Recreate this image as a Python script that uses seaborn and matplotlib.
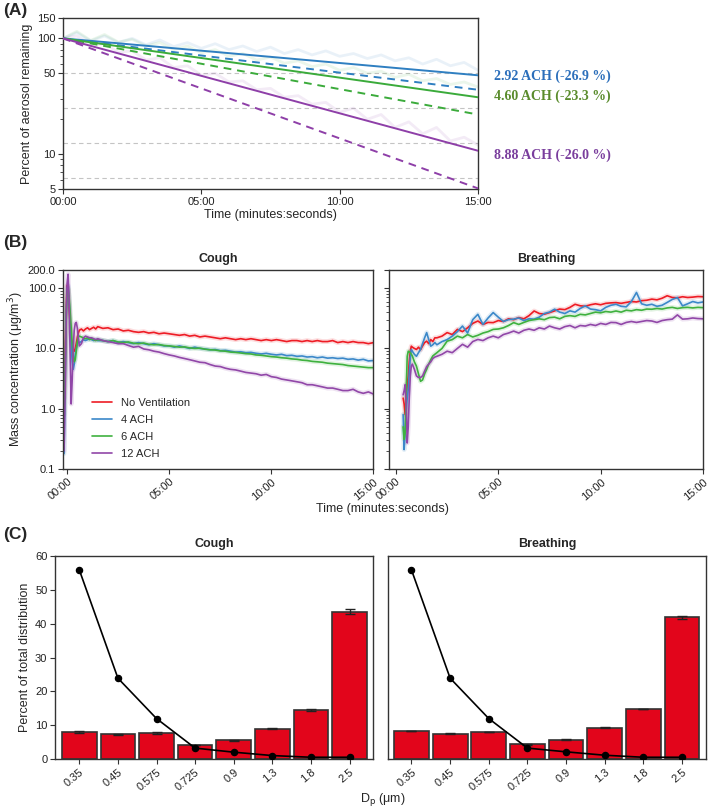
import numpy as np
import pandas as pd
import matplotlib
matplotlib.use("Agg")
import matplotlib.pyplot as plt
import seaborn as sns
from matplotlib.ticker import FixedLocator, FuncFormatter, LogLocator, NullFormatter, FixedFormatter

# ---------------- DATA ----------------
# Panel A: decay fits (percent remaining), endpoints at 0 and 15 min
a_time = [0, 15]
a_fit_292 = [100, 48]
a_theory_292 = [100, 36]
a_fit_460 = [100, 31]
a_theory_460 = [100, 22]
a_fit_888 = [100, 10.7]
a_theory_888 = [100, 5.06]
half_levels = [50, 25, 12.5, 6.25]
a_labels = ["2.92 ACH (-26.9 %)", "4.60 ACH (-23.3 %)", "8.88 ACH (-26.0 %)"]

# faint measured traces (every 0.5 min)
a_meas_time = [0, 0.5, 1, 1.5, 2, 2.5, 3, 3.5, 4, 4.5, 5, 5.5, 6, 6.5, 7, 7.5, 8, 8.5,
               9, 9.5, 10, 10.5, 11, 11.5, 12, 12.5, 13, 13.5, 14, 14.5, 15]
a_meas_292 = [100, 112, 95, 105, 92, 100, 88, 97, 85, 92, 82, 90, 80, 86, 77, 84, 74, 80,
              72, 78, 70, 74, 67, 72, 64, 68, 60, 66, 58, 62, 53]
a_meas_460 = [100, 115, 96, 108, 93, 98, 86, 92, 80, 86, 75, 80, 70, 74, 65, 69, 61, 64,
              57, 60, 53, 56, 50, 52, 46, 49, 43, 45, 40, 42, 38]
a_meas_888 = [100, 105, 88, 90, 76, 78, 65, 68, 56, 58, 48, 50, 42, 43, 36, 37, 31, 32,
              27, 28, 23, 25, 20, 22, 17, 19, 15, 17, 13, 14, 12]

# Panel B: mass concentration (ug/m3)
b_conditions = ["No Ventilation", "4 ACH", "6 ACH", "12 ACH"]
cough_time = [-0.15, -0.1, -0.05, 0.0, 0.05, 0.1, 0.15, 0.2, 0.25, 0.3, 0.35, 0.4, 0.45, 0.5,
              0.55, 0.6, 0.7, 0.8, 0.9, 1.0, 1.1, 1.2, 1.3, 1.4, 1.5,
              1.75, 2.0, 2.25, 2.5, 2.75, 3.0, 3.25, 3.5, 3.75, 4.0, 4.25, 4.5, 4.75, 5.0,
              5.25, 5.5, 5.75, 6.0, 6.25, 6.5, 6.75, 7.0, 7.25, 7.5, 7.75, 8.0, 8.25, 8.5,
              8.75, 9.0, 9.25, 9.5, 9.75, 10.0, 10.25, 10.5, 10.75, 11.0, 11.25, 11.5, 11.75,
              12.0, 12.25, 12.5, 12.75, 13.0, 13.25, 13.5, 13.75, 14.0, 14.25, 14.5, 14.75, 15.0]
cough_none = [1.5, 5, 40, 110, 90, 45, 25, 15, 11, 9.5, 9, 10, 12, 15,
              18, 20, 21, 19.5, 21, 22, 20.5, 21.5, 22.5, 21, 23,
              21.5, 22, 20.5, 21, 19.5, 20, 19, 18.5, 19, 18, 18.5, 17.5, 18, 17.5,
              17, 16.5, 17, 16, 16.5, 15.5, 16, 15.5, 15, 14.5, 15, 14.5, 14, 14.5,
              14, 14.5, 14, 13.5, 14, 13.5, 14, 13.5, 13, 13.5, 13.5, 13, 13.5,
              13, 13.5, 13, 13, 13.5, 12.5, 13, 12.5, 13, 12.5, 12.5, 12, 12.5]
cough_4 = [0.18, 2, 30, 100, 110, 60, 30, 12, 6, 4.5, 5.5, 8, 10, 12,
           13, 12.5, 13, 14, 13.5, 14, 14.5, 14, 13.5, 14, 13.5,
           13.5, 13, 13.5, 12.5, 13, 12.5, 12, 12.5, 12, 11.5, 12, 11.5, 11, 11,
           10.5, 11, 10.5, 10, 10.5, 10, 9.8, 9.5, 9.6, 9.2, 9.3, 9, 8.7, 8.8,
           8.5, 8.6, 8.3, 8.1, 8.3, 8, 7.8, 8, 7.6, 7.7, 7.4, 7.5, 7.2,
           7.3, 7.0, 7.2, 6.9, 7.0, 6.8, 6.9, 6.6, 6.7, 6.4, 6.6, 6.2, 6.3]
cough_6 = [0.8, 3, 25, 80, 100, 70, 40, 22, 12, 7.5, 6, 6.5, 9, 13,
           15.5, 16, 15.5, 15, 14.5, 15, 14, 14.5, 14, 13.5, 14,
           13.5, 13, 13.5, 12.8, 12.5, 12.8, 12.2, 12, 12.3, 11.7, 11.5, 11.6, 11.2, 11,
           10.8, 10.5, 10.6, 10.2, 10, 10.1, 9.7, 9.5, 9.4, 9.1, 9, 8.7, 8.6, 8.4,
           8.2, 8.1, 7.8, 7.7, 7.5, 7.3, 7.2, 7.0, 6.9, 6.7, 6.6, 6.4, 6.3,
           6.1, 6.0, 5.9, 5.7, 5.6, 5.5, 5.4, 5.2, 5.1, 5.0, 4.9, 4.8, 4.8]
cough_12 = [0.2, 1.4, 20, 120, 170, 60, 8, 1.2, 3, 10, 20, 26, 27, 22,
            15, 11, 12, 15, 16, 15.5, 15, 15, 14.5, 14, 14.5,
            13.5, 13, 12.5, 12, 12, 11.2, 10.5, 10.8, 9.8, 9.5, 9, 8.7, 8.2, 7.8,
            7.5, 7.1, 6.8, 6.5, 6.2, 5.9, 5.8, 5.4, 5.1, 5.0, 4.7, 4.5, 4.4, 4.2,
            4.0, 3.9, 3.8, 3.6, 3.7, 3.4, 3.3, 3.1, 3.0, 2.9, 2.8, 2.7, 2.5,
            2.5, 2.4, 2.3, 2.2, 2.2, 2.1, 2.0, 2.0, 2.1, 1.9, 1.8, 1.9, 1.75]

breath_time = [0.35, 0.4, 0.45, 0.5, 0.55, 0.6, 0.65, 0.7, 0.75, 0.8, 0.9, 1.0, 1.1, 1.2,
               1.3, 1.4, 1.5, 1.6, 1.7, 1.8, 1.9, 2.0,
               2.25, 2.5, 2.75, 3.0, 3.25, 3.5, 3.75, 4.0, 4.25, 4.5, 4.75, 5.0, 5.25, 5.5,
               5.75, 6.0, 6.25, 6.5, 6.75, 7.0, 7.25, 7.5, 7.75, 8.0, 8.25, 8.5, 8.75, 9.0,
               9.25, 9.5, 9.75, 10.0, 10.25, 10.5, 10.75, 11.0, 11.25, 11.5, 11.75, 12.0,
               12.25, 12.5, 12.75, 13.0, 13.25, 13.5, 13.75, 14.0, 14.25, 14.5, 14.75, 15.0]
breath_none = [1.5, 1.2, 0.8, 1.5, 2.5, 3.5, 6, 9, 10.9, 10.5, 10, 9.6, 10.5, 9.5,
               11, 12.5, 13.2, 12, 14, 13, 15, 15,
               16, 18.3, 17, 20.7, 19, 22, 26, 28.5, 25, 27, 26.8, 29, 28, 31,
               30, 32.5, 31, 35, 41.8, 38, 37, 39.3, 42, 45, 44, 48, 54, 51,
               50, 53, 55, 53, 56, 57, 57.6, 56, 58, 60, 59, 62,
               63, 65.8, 64, 68, 74.8, 70, 69, 72, 70, 71, 72.6, 72]
breath_4 = [0.8, 0.21, 0.4, 0.9, 1.5, 2.07, 4, 7, 9.6, 9, 8, 7.4, 8.5, 9.6,
            12, 15, 18.3, 14, 10.9, 11.5, 12.5, 11.5,
            13, 14, 16, 19, 23.5, 18, 30, 36.8, 25, 32, 39.3, 33, 28, 30,
            30.6, 32, 29, 31, 30.6, 33, 38, 40, 44.7, 40, 38, 42, 40, 46,
            50.8, 45, 44, 42, 48, 52, 54, 50, 49, 60, 84.8, 55,
            52, 54, 50, 52, 58, 65, 70, 50.8, 55, 60, 57, 59]
breath_6 = [0.5, 0.31, 0.4, 2, 7.4, 9.0, 8.8, 8.5, 8, 7.5, 6, 5.1, 3.8, 2.85,
            3.0, 3.8, 4.5, 5.5, 6.5, 7.5, 8, 8.5,
            10, 13.2, 14, 16, 15, 17, 15.5, 16.5, 18, 19, 20.7, 21, 22, 24,
            26.8, 25, 27, 29, 30, 31, 30, 32.5, 33, 31, 34, 35, 34, 36.8,
            36, 38, 40, 39, 41, 40, 41.8, 40, 43, 42, 44, 43,
            45, 44.7, 46, 45, 47, 48, 46, 47.5, 48, 47, 48, 47.5]
breath_12 = [1.7, 2.0, 2.5, 1.2, 0.27, 0.5, 1.5, 3.5, 5.1, 5.5, 4.5, 3.5, 3.3, 3.3,
             3.5, 4.2, 5, 5.5, 6, 6.8, 7.2, 7.4,
             8, 9, 8.5, 10, 11.7, 10.5, 13, 14.1, 13.5, 15, 16, 15, 17, 18,
             19.4, 18, 20, 21, 20, 22, 21, 23.5, 22, 21, 23, 24, 22, 24,
             23.5, 25, 24, 26, 25, 27, 26.8, 25, 27, 28, 27, 28,
             29, 28.5, 27, 29, 30, 30.6, 36, 30.6, 31, 32, 31.3, 31]

# Panel C: size distribution
dp_labels = ["0.35", "0.45", "0.575", "0.725", "0.9", "1.3", "1.8", "2.5"]
cough_mass_pct = [8.1, 7.4, 7.7, 4.2, 5.6, 9.0, 14.5, 43.5]
cough_mass_err = [0.3, 0.2, 0.3, 0.1, 0.1, 0.1, 0.2, 0.8]
cough_number_pct = [55.8, 23.9, 12.0, 3.3, 2.1, 1.1, 0.6, 0.6]
breath_mass_pct = [8.3, 7.6, 8.0, 4.4, 5.8, 9.3, 14.8, 41.8]
breath_mass_err = [0.1, 0.1, 0.1, 0.1, 0.1, 0.1, 0.1, 0.4]
breath_number_pct = [55.8, 23.9, 12.0, 3.3, 2.2, 1.2, 0.6, 0.6]

# ---------------- STYLE ----------------
sns.set_theme(style="white")
plt.rcParams['font.family'] = ['Liberation Sans', 'DejaVu Sans']
plt.rcParams['axes.edgecolor'] = '#333333'
plt.rcParams['axes.linewidth'] = 1.0
plt.rcParams['xtick.color'] = '#333333'
plt.rcParams['ytick.color'] = '#333333'
plt.rcParams['xtick.labelcolor'] = '#222222'
plt.rcParams['ytick.labelcolor'] = '#222222'

TICK_FS = 8
LAB_FS = 9

col_a = {'292': '#2f7fc1', '460': '#3bab3b', '888': '#8e3fa8'}
txt_col = ['#2c6fbb', '#5a8c2c', '#7a3e9d']
b_pal = {"No Ventilation": '#ee1c25', "4 ACH": '#3b88c9',
         "6 ACH": '#3fb13f', "12 ACH": '#9147a8'}
bar_col = '#e2051b'

W, H = 709, 808
fig = plt.figure(figsize=(W / 100, H / 100), dpi=100)


def rect(l, t, r, b):
    return [l / W, 1 - b / H, (r - l) / W, (b - t) / H]


def mmss(v, pos):
    return f"{int(round(v)):02d}:00"


def style_ticks(ax):
    ax.tick_params(axis='both', which='major', direction='out', length=3.5, width=0.8,
                   labelsize=TICK_FS, bottom=True, left=True, top=False, right=False, pad=2)
    ax.tick_params(axis='y', which='minor', direction='out', length=2, width=0.6, left=True)
    for s in ax.spines.values():
        s.set_visible(True)
        s.set_color('#333333')
        s.set_linewidth(1.0)


# ---------------- PANEL A ----------------
axA = fig.add_axes(rect(63, 18, 478, 189))
for lvl in half_levels:
    axA.axhline(lvl, color='#c4c4c4', ls=(0, (4, 3)), lw=0.8, zorder=0)
for meas, c in [(a_meas_292, col_a['292']), (a_meas_460, col_a['460']), (a_meas_888, col_a['888'])]:
    sns.lineplot(x=a_meas_time, y=meas, ax=axA, color=c, alpha=0.1, lw=2.0, zorder=1)
for fit, theo, c in [(a_fit_292, a_theory_292, col_a['292']),
                     (a_fit_460, a_theory_460, col_a['460']),
                     (a_fit_888, a_theory_888, col_a['888'])]:
    sns.lineplot(x=a_time, y=fit, ax=axA, color=c, lw=1.4, zorder=3)
    sns.lineplot(x=a_time, y=theo, ax=axA, color=c, lw=1.4, ls=(0, (4, 3)), zorder=3)
axA.set_yscale('log')
axA.set_ylim(5, 150)
axA.set_xlim(0, 15)
axA.yaxis.set_major_locator(FixedLocator([5, 10, 50, 100, 150]))
axA.yaxis.set_major_formatter(FixedFormatter(["5", "10", "50", "100", "150"]))
axA.yaxis.set_minor_locator(LogLocator(base=10, subs=np.arange(2, 10)))
axA.yaxis.set_minor_formatter(NullFormatter())
axA.xaxis.set_major_locator(FixedLocator([0, 5, 10, 15]))
axA.xaxis.set_major_formatter(FuncFormatter(mmss))
style_ticks(axA)
axA.set_xlabel("Time (minutes:seconds)", fontsize=LAB_FS, labelpad=2)
axA.set_ylabel("Percent of aerosol remaining", fontsize=LAB_FS, labelpad=3)
for lab, yy, c in zip(a_labels, [76, 96, 155], txt_col):
    fig.text(494 / W, 1 - yy / H, lab, color=c, fontsize=10, fontweight='bold',
             family=['Liberation Serif', 'DejaVu Serif'], va='center', ha='left')

# ---------------- PANEL B ----------------
def long_df(time, series):
    rows = []
    for name, vals in zip(b_conditions, series):
        for t, v in zip(time, vals):
            rows.append((t, v, name))
    return pd.DataFrame(rows, columns=["time", "conc", "cond"])


df_cough = long_df(cough_time, [cough_none, cough_4, cough_6, cough_12])
df_breath = long_df(breath_time, [breath_none, breath_4, breath_6, breath_12])

axBl = fig.add_axes(rect(63, 270, 373.5, 469))
axBr = fig.add_axes(rect(389, 270, 703, 469))
for ax, df, x0 in [(axBl, df_cough, -0.2), (axBr, df_breath, -0.34)]:
    sns.lineplot(data=df, x="time", y="conc", hue="cond", palette=b_pal, ax=ax,
                 lw=3.5, alpha=0.15, legend=False, estimator=None, sort=False)
    sns.lineplot(data=df, x="time", y="conc", hue="cond", palette=b_pal, ax=ax,
                 lw=1.2, legend=(ax is axBl), estimator=None, sort=False)
    ax.set_yscale('log')
    ax.set_ylim(0.1, 200)
    ax.set_xlim(x0, 15)
    ax.yaxis.set_major_locator(FixedLocator([0.1, 1, 10, 100, 200]))
    ax.yaxis.set_major_formatter(FixedFormatter(["0.1", "1.0", "10.0", "100.0", "200.0"]))
    ax.yaxis.set_minor_locator(LogLocator(base=10, subs=np.arange(2, 10)))
    ax.yaxis.set_minor_formatter(NullFormatter())
    ax.xaxis.set_major_locator(FixedLocator([0, 5, 10, 15]))
    ax.xaxis.set_major_formatter(FuncFormatter(mmss))
    style_ticks(ax)
    ax.set_xlabel("")
    ax.set_ylabel("")
    for lbl in ax.get_xticklabels():
        lbl.set_rotation(40)
        lbl.set_ha('right')
        lbl.set_rotation_mode('anchor')
axBr.tick_params(axis='y', labelleft=False)
axBl.set_title("Cough", fontsize=9, fontweight='bold', pad=6)
axBr.set_title("Breathing", fontsize=9, fontweight='bold', pad=6)
axBl.set_ylabel("Mass concentration (\u03bcg/m$^3$)", fontsize=LAB_FS, labelpad=1)
leg = axBl.legend(loc='lower left', bbox_to_anchor=(0.06, 0.0), frameon=False,
                  fontsize=8, handlelength=1.8, handletextpad=0.8, labelspacing=0.62)
for h in leg.get_lines():
    h.set_linewidth(1.2)
fig.text(382 / W, 1 - 509 / H, "Time (minutes:seconds)", fontsize=LAB_FS, ha='center', va='center')

# ---------------- PANEL C ----------------
axCl = fig.add_axes(rect(55, 555.7, 372.7, 759.3))
axCr = fig.add_axes(rect(388.3, 555.7, 706, 759.3))
for ax, mass, err, num, xl in [(axCl, cough_mass_pct, cough_mass_err, cough_number_pct, (-0.63, 7.6)),
                               (axCr, breath_mass_pct, breath_mass_err, breath_number_pct, (-0.6, 7.62))]:
    sns.barplot(x=dp_labels, y=mass, ax=ax, color=bar_col, saturation=1, width=0.9,
                edgecolor='#333333', linewidth=1.2, errorbar=None, zorder=2)
    ax.errorbar(np.arange(len(dp_labels)), mass, yerr=err, fmt='none', ecolor='#222222',
                elinewidth=1.0, capsize=3.5, capthick=1.0, zorder=3)
    sns.pointplot(x=dp_labels, y=num, ax=ax, color='black', markers='o', markersize=4.5,
                  linewidth=1.2, errorbar=None, zorder=4)
    ax.set_xlim(*xl)
    ax.set_ylim(0, 60)
    style_ticks(ax)
    ax.set_xlabel("")
    ax.set_ylabel("")
    for lbl in ax.get_xticklabels():
        lbl.set_rotation(40)
        lbl.set_ha('right')
        lbl.set_rotation_mode('anchor')
axCl.yaxis.set_major_locator(FixedLocator([0, 10, 20, 30, 40, 50, 60]))
axCr.set_yticks([])
axCr.tick_params(axis='y', left=False, labelleft=False)
axCl.set_title("Cough", fontsize=9, fontweight='bold', pad=6)
axCr.set_title("Breathing", fontsize=9, fontweight='bold', pad=6)
axCl.set_ylabel("Percent of total distribution", fontsize=LAB_FS, labelpad=3)
fig.text(383 / W, 1 - 799 / H, "D$_{\\mathrm{p}}$ (\u03bcm)", fontsize=LAB_FS, ha='center', va='center')

# Panel letters
for lab, yy in [("(A)", 10), ("(B)", 243), ("(C)", 535)]:
    fig.text(3 / W, 1 - yy / H, lab, fontsize=12.5, fontweight='bold', ha='left', va='center')

fig.savefig("out.png", dpi=100)
